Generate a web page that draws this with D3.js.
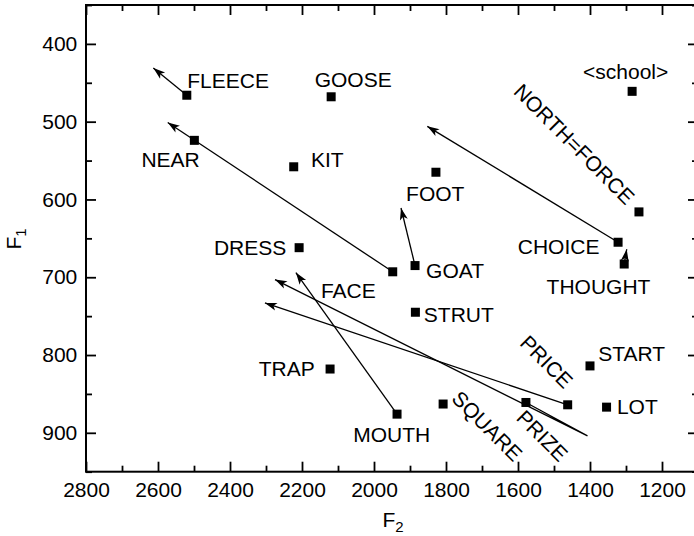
<!DOCTYPE html>
<html>
<head>
<meta charset="utf-8">
<script src="https://cdn.jsdelivr.net/npm/d3@7/dist/d3.min.js"></script>
<style>
  html, body { margin: 0; padding: 0; background: #fff; }
  svg { display: block; }
  text { font-family: "Liberation Sans", Arial, Helvetica, sans-serif; fill: #000; }
</style>
</head>
<body>
<svg id="chart" width="694" height="536"></svg>
<script>
// Vowel categories with mean formant values (Hz)
const vowels = ["FLEECE", "GOOSE", "NEAR", "KIT", "DRESS", "FACE", "GOAT", "FOOT", "STRUT", "TRAP",
                "MOUTH", "SQUARE", "PRIZE", "PRICE", "START", "LOT", "THOUGHT", "CHOICE", "NORTH=FORCE", "<school>"];
const f2Values = [2520, 2119, 2499, 2223, 2208, 1948, 1886, 1828, 1885, 2122,
                  1936, 1808, 1578, 1462, 1400, 1354, 1305, 1322, 1264, 1283];
const f1Values = [466, 468, 524, 558, 662, 693, 685, 565, 745, 818,
                  876, 863, 861, 864, 814, 867, 683, 655, 616, 461];

// Glide trajectories (F2, F1 pairs along each path), arrowhead at the last point
const glideVowels = ["FLEECE", "FACE", "GOAT", "CHOICE", "THOUGHT", "MOUTH", "PRICE", "PRIZE"];
const glideF2 = [[2520, 2613], [1948, 2573], [1886, 1925], [1322, 1852], [1305, 1298], [1936, 2217], [1462, 2303], [1578, 1407, 2275]];
const glideF1 = [[466, 431], [693, 501], [685, 611], [655, 506], [683, 664], [876, 694], [864, 733], [861, 904, 703]];

// Axis ticks
const xMajorTicks = [2800, 2600, 2400, 2200, 2000, 1800, 1600, 1400, 1200];
const xMinorTicks = [2700, 2500, 2300, 2100, 1900, 1700, 1500, 1300, 1100];
const yMajorTicks = [400, 500, 600, 700, 800, 900];
const yMinorTicks = [350, 450, 550, 650, 750, 850, 950];

// Label placement: pixel offset of the label centre from its marker; rotated labels turn 45 degrees
const labelPlacement = {
  "FLEECE": [41.3, -7.7, 0], "GOOSE": [22, -9.7, 0], "NEAR": [-23.8, 26.6, 0], "KIT": [33.6, 0.6, 0],
  "DRESS": [-49, 7.3, 0], "<school>": [-6.5, -12.4, 0], "FOOT": [-0.7, 29, 0], "CHOICE": [-59.5, 11.7, 0],
  "GOAT": [40, 12.8, 0], "THOUGHT": [-25.7, 30, 0], "FACE": [-44.4, 26.6, 0], "STRUT": [43.4, 9.4, 0],
  "START": [41.7, -5.3, 0], "TRAP": [-43.3, 7.4, 0], "LOT": [30.8, 6.7, 0], "MOUTH": [-5.3, 27.7, 0],
  "NORTH=FORCE": [-64.5, -68, 45], "PRICE": [-21, -43.3, 45], "SQUARE": [44.2, 21.8, 45], "PRIZE": [16.5, 33.1, 45]
};

const svg = d3.select("#chart");
const plotLeft = 86, plotRight = 698, plotTop = 5, plotBottom = 471.7;
const fontSize = 21;

const x = d3.scaleLinear().domain([2800, 1100]).range([plotLeft, plotRight]);
const y = d3.scaleLinear().domain([350, 950]).range([plotTop, plotBottom]);

// Axes with inward ticks on all four sides
function styleAxis(g) {
  g.select(".domain").remove();
  g.attr("font-family", null).attr("font-size", null);
  g.selectAll(".tick line").attr("stroke", "#000").attr("stroke-width", 1.8);
  g.selectAll(".tick text").style("font-size", fontSize + "px").attr("fill", "#000");
}
svg.append("g").attr("transform", `translate(0,${plotBottom})`)
  .call(d3.axisBottom(x).tickValues(xMajorTicks).tickFormat(d3.format("d")).tickSize(-10).tickPadding(10.2))
  .call(styleAxis);
svg.append("g").attr("transform", `translate(0,${plotBottom})`)
  .call(d3.axisBottom(x).tickValues(xMinorTicks).tickFormat("").tickSize(-6)).call(styleAxis);
svg.append("g").attr("transform", `translate(0,${plotTop})`)
  .call(d3.axisTop(x).tickValues(xMajorTicks).tickFormat("").tickSize(-10)).call(styleAxis);
svg.append("g").attr("transform", `translate(0,${plotTop})`)
  .call(d3.axisTop(x).tickValues(xMinorTicks).tickFormat("").tickSize(-6)).call(styleAxis);

svg.append("g").attr("transform", `translate(${plotLeft},0)`)
  .call(d3.axisLeft(y).tickValues(yMajorTicks).tickFormat(d3.format("d")).tickSize(-10).tickPadding(8.7))
  .call(styleAxis);
svg.append("g").attr("transform", `translate(${plotLeft},0)`)
  .call(d3.axisLeft(y).tickValues(yMinorTicks).tickFormat("").tickSize(-6)).call(styleAxis);
svg.append("g").attr("transform", `translate(${plotRight},0)`)
  .call(d3.axisRight(y).tickValues(yMajorTicks).tickFormat("").tickSize(-10)).call(styleAxis);
svg.append("g").attr("transform", `translate(${plotRight},0)`)
  .call(d3.axisRight(y).tickValues(yMinorTicks).tickFormat("").tickSize(-6)).call(styleAxis);

// Frame
svg.append("rect").attr("x", plotLeft).attr("y", plotTop)
  .attr("width", plotRight - plotLeft).attr("height", plotBottom - plotTop)
  .attr("fill", "none").attr("stroke", "#000").attr("stroke-width", 2);

// Axis titles
const xTitle = svg.append("text").attr("x", 382.5).attr("y", 526.7).style("font-size", fontSize + "px");
xTitle.append("tspan").text("F");
xTitle.append("tspan").attr("dy", 5).style("font-size", "15px").text("2");

const yTitle = svg.append("text").attr("transform", "translate(20.7,249.6) rotate(-90)").style("font-size", fontSize + "px");
yTitle.append("tspan").text("F");
yTitle.append("tspan").attr("dy", 5).style("font-size", "15px").text("1");

// Arrowhead
svg.append("defs").append("marker")
  .attr("id", "arrowhead").attr("markerUnits", "userSpaceOnUse")
  .attr("viewBox", "-13 -5 14 10").attr("refX", 0).attr("refY", 0)
  .attr("markerWidth", 14).attr("markerHeight", 10).attr("orient", "auto")
  .append("path").attr("d", "M0,0 L-12,-4 L-9,0 L-12,4 Z").attr("fill", "#000");

// Glide trajectories
const line = d3.line().x(d => x(d[0])).y(d => y(d[1]));
svg.append("g").selectAll("path").data(glideVowels).join("path")
  .attr("d", (v, i) => line(glideF2[i].map((f2, j) => [f2, glideF1[i][j]])))
  .attr("fill", "none").attr("stroke", "#000").attr("stroke-width", 1.3)
  .attr("marker-end", "url(#arrowhead)");

// Vowel markers
const sq = 9;
svg.append("g").selectAll("rect").data(vowels).join("rect")
  .attr("x", (v, i) => x(f2Values[i]) - sq / 2)
  .attr("y", (v, i) => y(f1Values[i]) - sq / 2)
  .attr("width", sq).attr("height", sq).attr("fill", "#000");

// Vowel labels
svg.append("g").selectAll("text").data(vowels).join("text")
  .attr("transform", (v, i) => {
    const p = labelPlacement[v];
    return `translate(${x(f2Values[i]) + p[0]},${y(f1Values[i]) + p[1]}) rotate(${p[2]})`;
  })
  .attr("text-anchor", "middle")
  .attr("dy", v => labelPlacement[v][2] ? "0.36em" : null)
  .style("font-size", fontSize + "px")
  .text(v => v);
</script>
</body>
</html>
